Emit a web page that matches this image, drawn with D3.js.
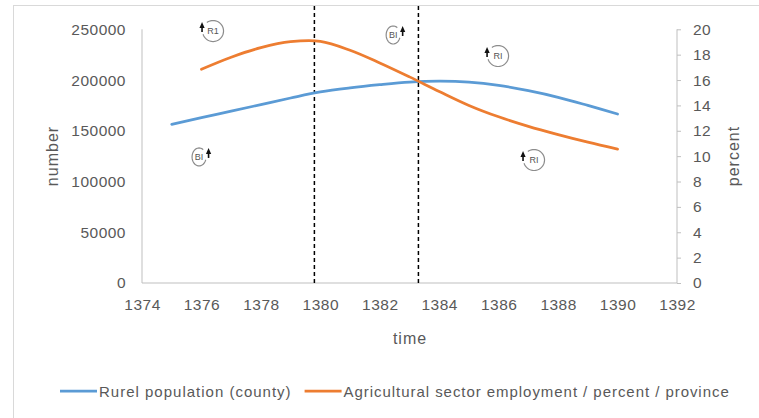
<!DOCTYPE html>
<html><head><meta charset="utf-8">
<script src="https://cdn.jsdelivr.net/npm/d3@7"></script>
<style>body{margin:0;background:#fff}svg{display:block}text{font-family:"Liberation Sans",Arial,sans-serif}</style>
</head><body><svg id="c" width="759" height="418"></svg>
<script>
// Data
const blueYears = [1375,1376,1377,1378,1379,1380,1381,1382,1383,1384,1385,1386,1387,1388,1389,1390];
const blueValues = [156400,163000,169300,175800,182300,188300,192300,195400,197900,198900,198000,194800,189500,183000,175000,166500];
const orangeYears = [1376,1377,1378,1379,1380,1381,1382,1383,1384,1385,1386,1387,1388,1389,1390];
const orangeValues = [16.85,17.8,18.55,19.02,19.05,18.35,17.35,16.25,15.1,14.0,13.1,12.35,11.7,11.1,10.55];
const xTicks = [1374,1376,1378,1380,1382,1384,1386,1388,1390,1392];
const leftTicks = [0,50000,100000,150000,200000,250000];
const rightTicks = [0,2,4,6,8,10,12,14,16,18,20];
const dashedYears = [1379.8,1383.3];
const loopYears = [1376.39,1382.45,1385.98,1375.92,1387.19];
const loopValues = [248300,244400,223700,124200,121200];
const loopLabels = ["R1","BI","RI","BI","RI"];
const seriesNames = ["Rurel population (county)","Agricultural sector employment / percent / province"];

const svg = d3.select("#c");
const x = d3.scaleLinear().domain([1374,1392]).range([142,677]);
const yL = d3.scaleLinear().domain([0,250000]).range([283,29.3]);
const yR = d3.scaleLinear().domain([0,20]).range([283,29.3]);
const gray = "#595959", axisCol = "#bfbfbf";

// outer border
svg.append("rect").attr("x",13.5).attr("y",5.5).attr("width",800).attr("height",500)
  .attr("fill","none").attr("stroke","#d9d9d9");

// axes
const gx = svg.append("g").attr("transform","translate(0,283)")
  .call(d3.axisBottom(x).tickValues(xTicks).tickSize(0).tickPadding(16).tickFormat(d3.format("d")));
const gl = svg.append("g").attr("transform","translate(142,0)")
  .call(d3.axisLeft(yL).tickValues(leftTicks).tickSize(0).tickPadding(16).tickFormat(d3.format("d")));
const gr = svg.append("g").attr("transform","translate(677,0)")
  .call(d3.axisRight(yR).tickValues(rightTicks).tickSize(4).tickPadding(12).tickFormat(d3.format("d")));
[gx,gl,gr].forEach(g=>{
  g.select(".domain").attr("stroke",axisCol);
  g.selectAll(".tick line").attr("stroke",axisCol);
  g.selectAll(".tick text").attr("fill",gray).attr("font-size",15.5).attr("letter-spacing",0.5)
    .attr("font-family","Liberation Sans, Arial, sans-serif");
});
gx.select(".domain").attr("d","M142,0H677");
gl.select(".domain").attr("d","M0,283V29.3");
gr.select(".domain").attr("d","M0,283V29.3");

// axis titles
svg.append("text").attr("transform","translate(58,156) rotate(-90)").attr("text-anchor","middle")
  .attr("fill",gray).attr("font-size",16).attr("letter-spacing",1).text("number");
svg.append("text").attr("transform","translate(739,156) rotate(-90)").attr("text-anchor","middle")
  .attr("fill",gray).attr("font-size",16).attr("letter-spacing",1).text("percent");
svg.append("text").attr("x",410).attr("y",344).attr("text-anchor","middle")
  .attr("fill",gray).attr("font-size",16).attr("letter-spacing",1).text("time");

// dashed lines
svg.selectAll(".dash").data(dashedYears).enter().append("line")
  .attr("x1",d=>x(d)).attr("x2",d=>x(d)).attr("y1",6).attr("y2",283)
  .attr("stroke","#000").attr("stroke-width",1.5).attr("stroke-dasharray","4,3");

// lines
const blueLine = d3.line().x((d,i)=>x(blueYears[i])).y(d=>yL(d)).curve(d3.curveCatmullRom.alpha(0.5));
const orangeLine = d3.line().x((d,i)=>x(orangeYears[i])).y(d=>yR(d)).curve(d3.curveCatmullRom.alpha(0.5));
svg.append("path").attr("d",blueLine(blueValues)).attr("fill","none").attr("stroke","#5B9BD5").attr("stroke-width",2.75).attr("stroke-linecap","round");
svg.append("path").attr("d",orangeLine(orangeValues)).attr("fill","none").attr("stroke","#ED7D31").attr("stroke-width",2.75).attr("stroke-linecap","round");

// loop icons
loopYears.forEach((yr,i)=>{
  const cx = x(yr), cy = yL(loopValues[i]);
  const isB = loopLabels[i] === "BI";
  const rx = isB ? 7 : 10.5, ry = isB ? 9 : 10.5;
  const g = svg.append("g");
  const arc = d3.path();
  const a0 = isB ? -Math.PI*0.3 : -Math.PI*0.7, sweep = Math.PI*1.6;
  const steps = 40;
  for(let k=0;k<=steps;k++){
    const a = isB ? a0 - sweep*k/steps : a0 + sweep*k/steps;
    const px = cx + rx*Math.cos(a), py = cy + ry*Math.sin(a);
    if(k===0) arc.moveTo(px,py); else arc.lineTo(px,py);
  }
  g.append("path").attr("d",arc.toString()).attr("fill","none").attr("stroke","#8c8c8c").attr("stroke-width",1.2);
  g.append("text").attr("x",cx).attr("y",cy+3.2).attr("text-anchor","middle")
    .attr("font-family","Liberation Serif, serif").attr("font-size",9).attr("fill","#555").text(loopLabels[i]);
  const ax = isB ? cx + rx + 2.5 : cx - rx - 0.5, ay = cy - 3;
  g.append("path").attr("d",`M${ax},${ay-6}L${ax-2.6},${ay}L${ax+2.6},${ay}Z`).attr("fill","#111");
  g.append("line").attr("x1",ax).attr("x2",ax).attr("y1",ay).attr("y2",ay+4).attr("stroke","#111").attr("stroke-width",1.6);
});

// legend
const legend = svg.append("g");
legend.append("line").attr("x1",60).attr("x2",97).attr("y1",391).attr("y2",391).attr("stroke","#5B9BD5").attr("stroke-width",2.75);
const t1 = legend.append("text").attr("x",99).attr("y",396.5).attr("fill",gray).attr("font-size",15).attr("letter-spacing",1).text(seriesNames[0]);
const w1 = t1.node().getComputedTextLength();
const lx2 = 99 + w1 + 13;
legend.append("line").attr("x1",lx2).attr("x2",lx2+37).attr("y1",391).attr("y2",391).attr("stroke","#ED7D31").attr("stroke-width",2.75);
legend.append("text").attr("x",lx2+39).attr("y",396.5).attr("fill",gray).attr("font-size",15).attr("letter-spacing",0.95).text(seriesNames[1]);
</script></body></html>
